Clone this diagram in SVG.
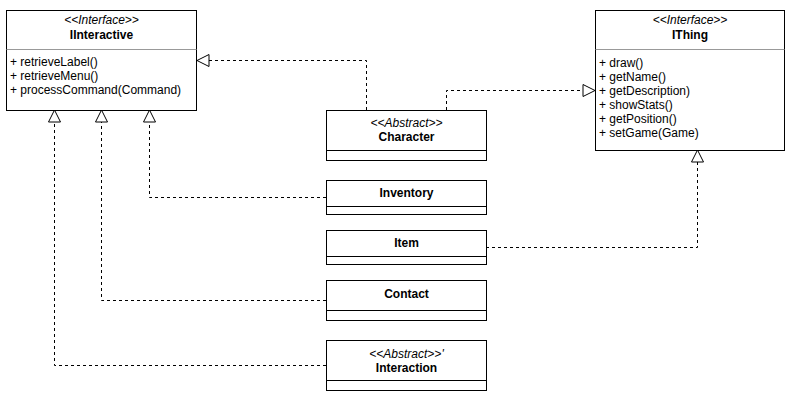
<svg xmlns="http://www.w3.org/2000/svg" width="792" height="405" viewBox="0 0 792 405">
<style>
.box{fill:#fff;stroke:#000;stroke-width:1}
.div{stroke:#000;stroke-width:1}
.divg{stroke:#999;stroke-width:1}
text{font-family:"Liberation Sans",Arial,sans-serif;font-size:12px;fill:#000}
.st{font-style:italic;font-size:12px;text-anchor:middle}
.ti{font-weight:bold;text-anchor:middle}
.conn{fill:none;stroke:#000;stroke-width:1;stroke-dasharray:3,3}
</style>
<defs>
<marker id="tri" viewBox="0 0 14 14" refX="13" refY="7" markerWidth="14" markerHeight="14" markerUnits="userSpaceOnUse" orient="auto">
<path d="M1,1 L13,7 L1,13 Z" fill="#fff" stroke="#000" stroke-width="1"/>
</marker>
</defs>
<rect width="792" height="405" fill="#fff"/>
<g id="connectors">
<path class="conn" d="M366.5,110 V60.5 H197" marker-end="url(#tri)"/>
<path class="conn" d="M446.5,110 V90.5 H595" marker-end="url(#tri)"/>
<path class="conn" d="M326,197.5 H149.5 V110" marker-end="url(#tri)"/>
<path class="conn" d="M326,300.5 H101.5 V110" marker-end="url(#tri)"/>
<path class="conn" d="M326,365.5 H54.5 V110" marker-end="url(#tri)"/>
<path class="conn" d="M486,247.5 H697.5 V150" marker-end="url(#tri)"/>
</g>
<g id="IInteractive">
<rect class="box" x="6.5" y="10.5" width="190" height="100"/>
<line class="divg" x1="6.5" y1="49.5" x2="196.5" y2="49.5"/>
<text class="st" x="101.5" y="24">&lt;&lt;Interface&gt;&gt;</text>
<text class="ti" x="101.5" y="39">IInteractive</text>
<text x="10" y="66">+ retrieveLabel()</text>
<text x="10" y="80">+ retrieveMenu()</text>
<text x="10" y="94">+ processCommand(Command)</text>
</g>
<g id="IThing">
<rect class="box" x="595.5" y="10.5" width="189" height="140"/>
<line class="divg" x1="595.5" y1="49.5" x2="784.5" y2="49.5"/>
<text class="st" x="690" y="24">&lt;&lt;Interface&gt;&gt;</text>
<text class="ti" x="690" y="39">IThing</text>
<text x="599" y="67">+ draw()</text>
<text x="599" y="81">+ getName()</text>
<text x="599" y="95">+ getDescription)</text>
<text x="599" y="109">+ showStats()</text>
<text x="599" y="123">+ getPosition()</text>
<text x="599" y="137">+ setGame(Game)</text>
</g>
<g id="Character">
<rect class="box" x="326.5" y="110.5" width="160" height="50"/>
<line class="div" x1="326.5" y1="150.5" x2="486.5" y2="150.5"/>
<text class="st" x="406.5" y="127">&lt;&lt;Abstract&gt;&gt;</text>
<text class="ti" x="406.5" y="141">Character</text>
</g>
<g id="Inventory">
<rect class="box" x="326.5" y="180.5" width="160" height="34"/>
<line class="div" x1="326.5" y1="206.5" x2="486.5" y2="206.5"/>
<text class="ti" x="406.5" y="197">Inventory</text>
</g>
<g id="Item">
<rect class="box" x="326.5" y="230.5" width="160" height="34"/>
<line class="div" x1="326.5" y1="256.5" x2="486.5" y2="256.5"/>
<text class="ti" x="406.5" y="247">Item</text>
</g>
<g id="Contact">
<rect class="box" x="326.5" y="280.5" width="160" height="40"/>
<line class="div" x1="326.5" y1="310.5" x2="486.5" y2="310.5"/>
<text class="ti" x="406.5" y="298">Contact</text>
</g>
<g id="Interaction">
<rect class="box" x="326.5" y="340.5" width="160" height="50"/>
<line class="div" x1="326.5" y1="380.5" x2="486.5" y2="380.5"/>
<text class="st" x="406.5" y="358">&lt;&lt;Abstract&gt;&gt;'</text>
<text class="ti" x="406.5" y="372">Interaction</text>
</g>
</svg>
